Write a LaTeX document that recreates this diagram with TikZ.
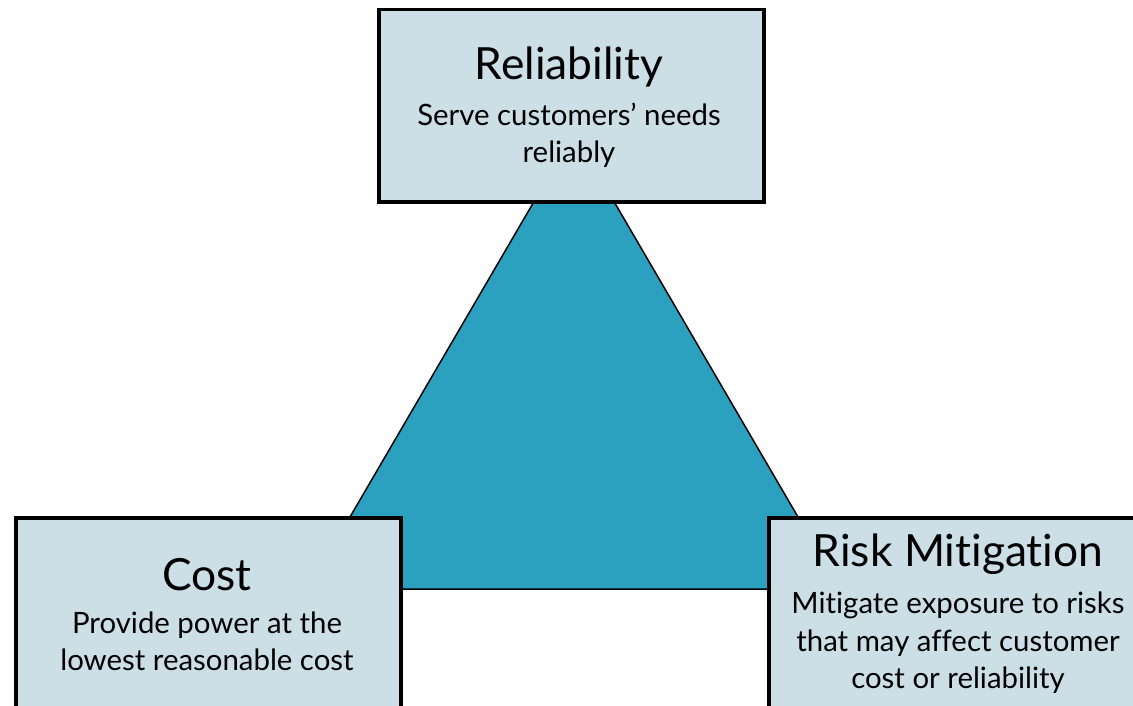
\documentclass[tikz,border=0pt]{standalone}
\usepackage{fontspec}
\setmainfont{Lato}[Ligatures=NoCommon]
\definecolor{boxfill}{HTML}{CCDFE6}
\definecolor{trifill}{HTML}{2CA1BF}
\tikzset{
  panel/.style={draw=black, line width=3.5bp, fill=boxfill, rectangle, inner sep=0pt, minimum width=385bp, minimum height=260bp, anchor=north west},
  panelsmall/.style={draw=black, line width=3.5bp, fill=boxfill, rectangle, inner sep=0pt, minimum width=385bp, minimum height=192bp, anchor=north west},
  title/.style={font=\fontsize{44.5}{48}\selectfont, inner sep=0pt},
  sub/.style={font=\fontsize{29.5}{37.5}\selectfont, align=center, inner sep=0pt},
  tri/.style={draw=black, line width=1.5bp, fill=trifill, line join=miter}
}
\begin{document}
\begin{tikzpicture}[x=1bp,y=-1bp]
\path[use as bounding box] (0,0) rectangle (1133,706);
\clip (0,0) rectangle (1133,706);
\fill[white] (0,0) rectangle (1133,706);
\coordinate (apex) at (574,133);
\coordinate (bl) at (308,589);
\coordinate (br) at (840,589);
\draw[tri] (apex) -- (bl) -- (br) -- cycle;
\node[panelsmall] (rel) at (377,8) {};
\node[panel] (cost) at (14,516) {};
\node[panel] (risk) at (767,516) {};
\node[title] (relt) at (569,67) {Reliability};
\node[sub] (rels) at (569,135) {Serve customers’ needs\\reliably};
\node[title] (costt) at (207,575) {Cost};
\node[sub] (costs) at (207,641) {Provide power at the\\lowest reasonable cost};
\node[title] (riskt) at (958,554) {Risk Mitigation};
\node[sub] (risks) at (958,643) {Mitigate exposure to risks\\that may affect customer\\cost or reliability};
\end{tikzpicture}
\end{document}
